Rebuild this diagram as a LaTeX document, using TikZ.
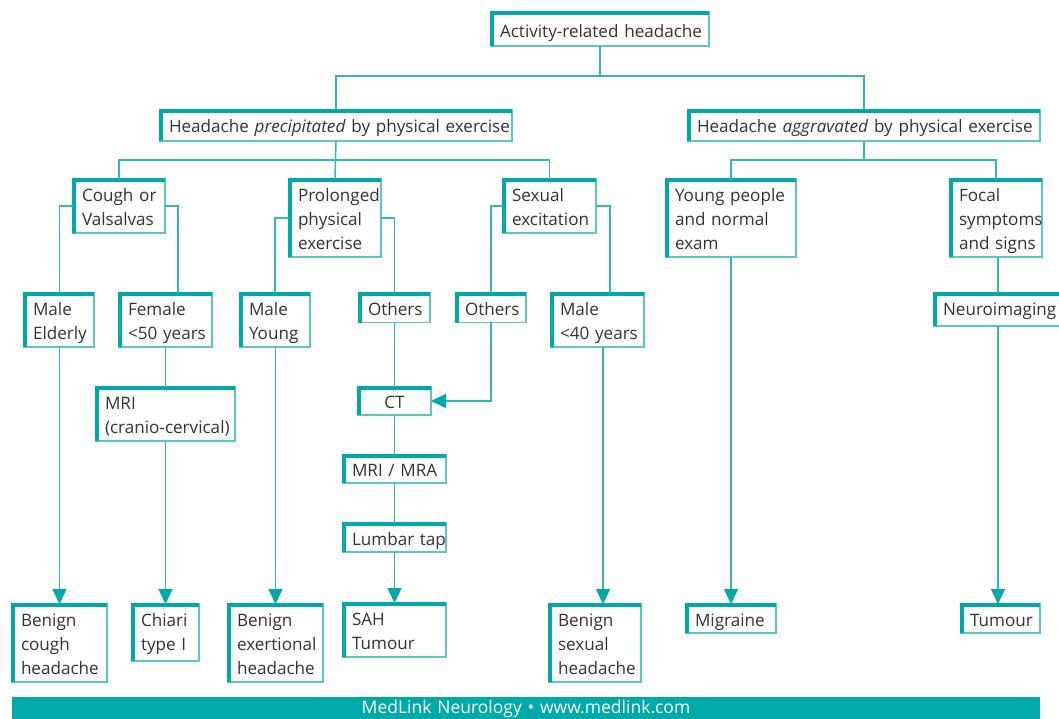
\documentclass[tikz,border=0pt]{standalone}
\usepackage{fontspec}
\setmainfont{Open Sans}
\usetikzlibrary{arrows.meta,calc}
\definecolor{tealD}{HTML}{00A8A8}
\definecolor{lineC}{HTML}{33B7B7}
\definecolor{thinC}{HTML}{5CC6C6}
\definecolor{txtC}{HTML}{333333}
\definecolor{barC}{HTML}{00A9AA}
\newcommand\dfont{\fontsize{17.1pt}{24pt}\selectfont}
\newcommand\ffont{\fontsize{17.5pt}{24pt}\selectfont}
\begin{document}
\begin{tikzpicture}[x=1pt,y=-1pt,
  bx/.style={draw=thinC, line width=1.4pt, outer sep=0pt, anchor=north west,
    inner xsep=9pt, inner ysep=0pt, text height=22.5pt, text depth=7pt,
    align=left, text=txtC, font=\dfont},
  wd/.style={text width=#1pt-18pt},
  ltwo/.style={text depth=31.5pt},
  lthree/.style={text depth=55.5pt},
  thk/.style={draw=tealD, line width=3.6pt, line join=miter},
  ln/.style={draw=lineC, line width=1.5pt},
  ar/.style={ln, -{Triangle[length=15pt,width=14pt,color=tealD]}}]
\useasboundingbox (0,0) rectangle (1059,718);
% level 1-2
\node[bx, wd=218, text height=25pt, text depth=9pt] (top) at (491,12) {\mbox{Activity-related headache}};
\node[bx, wd=352, text height=22pt, text depth=9pt] (prec) at (160,110) {\mbox{Headache \textit{precipitated} by physical exercise}};
\node[bx, wd=352, text height=22pt, text depth=9pt] (agg) at (688,110) {\mbox{Headache \textit{aggravated} by physical exercise}};
% level 3
\node[bx, wd=92, ltwo] (cough) at (73,179) {\mbox{Cough or}\\\mbox{Valsalvas}};
\node[bx, wd=92, lthree] (prol) at (289,179) {\mbox{Prolonged}\\\mbox{physical}\\\mbox{exercise}};
\node[bx, wd=93, ltwo] (sex) at (503,179) {\mbox{Sexual}\\\mbox{excitation}};
\node[bx, wd=130, lthree] (young) at (666,179) {\mbox{Young people}\\\mbox{and normal}\\\mbox{exam}};
\node[bx, wd=92, lthree] (focal) at (950,179) {\mbox{Focal}\\\mbox{symptoms}\\\mbox{and signs}};
% level 4
\node[bx, wd=70, ltwo] (melder) at (24,293) {\mbox{Male}\\\mbox{Elderly}};
\node[bx, wd=93, ltwo] (fem) at (119,293) {\mbox{Female}\\\mbox{<50 years}};
\node[bx, wd=70, ltwo] (myoung) at (240,293) {\mbox{Male}\\\mbox{Young}};
\node[bx, wd=71] (oth1) at (359,293) {\mbox{Others}};
\node[bx, wd=70] (oth2) at (456,293) {\mbox{Others}};
\node[bx, wd=93, ltwo] (m40) at (551,293) {\mbox{Male}\\\mbox{<40 years}};
\node[bx, wd=130, text height=22pt, text depth=11pt] (neuro) at (934,293) {\mbox{Neuroimaging}};
% middle
\node[bx, wd=139, ltwo] (mricc) at (96,387) {\mbox{MRI}\\\mbox{(cranio-cervical)}};
\node[bx, wd=73, align=center, text height=21pt, text depth=7pt] (ct) at (358,387) {\mbox{CT}};
\node[bx, wd=103, text height=21pt, text depth=7pt] (mrimra) at (343,455) {\mbox{MRI / MRA}};
\node[bx, wd=103, text height=22pt, text depth=7pt] (lumbar) at (343,523) {\mbox{Lumbar tap}};
% bottom
\node[bx, wd=95, lthree] (bcough) at (12,604) {\mbox{Benign}\\\mbox{cough}\\\mbox{headache}};
\node[bx, wd=67, ltwo, text depth=34.5pt] (chiari) at (132,604) {\mbox{Chiari}\\\mbox{type I}};
\node[bx, wd=95, lthree] (bexer) at (228,604) {\mbox{Benign}\\\mbox{exertional}\\\mbox{headache}};
\node[bx, wd=103, ltwo] (sah) at (343,603) {\mbox{SAH}\\\mbox{Tumour}};
\node[bx, wd=92, lthree] (bsex) at (549,604) {\mbox{Benign}\\\mbox{sexual}\\\mbox{headache}};
\node[bx, wd=90, text depth=6.5pt] (migr) at (686,604) {\mbox{Migraine}};
\node[bx, wd=79, text depth=6.5pt] (tum) at (961,604) {\mbox{Tumour}};
% thick top/left borders
\foreach \n in {top,prec,agg,cough,prol,sex,young,focal,melder,fem,myoung,oth1,oth2,m40,neuro,mricc,ct,mrimra,lumbar,bcough,chiari,bexer,sah,bsex,migr,tum}
  \draw[thk] ($(\n.south west)+(1.1,0)$) -- ($(\n.north west)+(1.1,1.1)$) -- ($(\n.north east)+(0,1.1)$);
% column coordinates
\coordinate (xfem) at (178,0);
\coordinate (xm40) at (610,0);
\coordinate (xsx) at (603,0);
\coordinate (xfoc) at (998,0);
\coordinate (xme) at (59.5,0);
% connectors
\draw[ln] (top.south) -- ++(0,30);
\draw[ln] (prec.north) -- ++(0,-34) -| (agg.north);
\draw[ln] (prec.south) -- (prol.north);
\draw[ln] (cough.north) -- ++(0,-19) -| (sex.north);
\draw[ln] (agg.south) -- ++(0,19);
\draw[ln] (young.north) -- ++(0,-19) -| (focal.north);
\draw[ln] (cough.west) -| (melder.north -| xme);
\draw[ln] (cough.east) -| (fem.north -| xfem);
\draw[ln] (prol.west) -| (myoung.north);
\draw[ln] (prol.east) -| (oth1.north);
\draw[ln] (sex.west) -| (oth2.north);
\draw[ln] (sex.east) -| (m40.north -| xm40);
\draw[ln] (fem.south) -- (mricc.north -| fem.south);
\draw[ln] (oth1.south) -- (ct.north -| oth1.south);
\draw[ln] (ct.south) -- (mrimra.north -| ct.south);
\draw[ln] (mrimra.south) -- (lumbar.north);
\draw[ln] (focal.south -| xfoc) -- (neuro.north -| xfoc);
% arrows
\draw[ar] (melder.south -| xme) -- (bcough.north -| xme);
\draw[ar] (mricc.south -| chiari.north) -- (chiari.north);
\draw[ar] (myoung.south -| bexer.north) -- (bexer.north);
\draw[ar] (oth2.south) |- (ct.east);
\draw[ar] (lumbar.south) -- (sah.north);
\draw[ar] (m40.south -| xsx) -- (bsex.north -| xsx);
\draw[ar] (young.south) -- (migr.north);
\draw[ar] (neuro.south -| xfoc) -- (tum.north -| xfoc);
% footer
\node[fill=barC, outer sep=0pt, inner sep=0pt, anchor=north west, text width=1028pt,
  align=center, text height=16pt, text depth=10pt, text=white, font=\ffont] (bar) at (12,697)
  {MedLink Neurology • www.medlink.com};
\end{tikzpicture}
\end{document}
